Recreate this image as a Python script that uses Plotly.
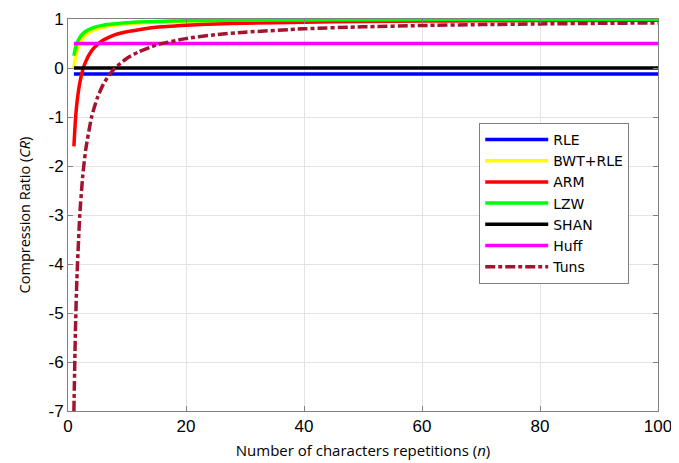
import plotly.graph_objects as go

n = [1, 1.25, 1.5, 2, 2.5, 3, 4, 5, 6, 7, 8, 10, 12, 15, 20, 25, 30, 40, 50, 60, 70, 80, 90, 100]

rle = [-0.12] * len(n)
shan = [0.0] * len(n)
huff = [0.5] * len(n)
bwt_rle = [0.0, 0.2, 0.33, 0.5, 0.6, 0.67, 0.75, 0.8, 0.83, 0.86, 0.875, 0.9, 0.92, 0.933, 0.95,
           0.96, 0.967, 0.975, 0.98, 0.983, 0.986, 0.988, 0.989, 0.99]
arm = [-1.6, -1.08, -0.73, -0.3, -0.04, 0.13, 0.35, 0.48, 0.57, 0.63, 0.68, 0.74, 0.78, 0.83, 0.87,
       0.9, 0.913, 0.935, 0.948, 0.957, 0.963, 0.968, 0.971, 0.974]
lzw = [0.25, 0.4, 0.5, 0.625, 0.7, 0.75, 0.81, 0.85, 0.875, 0.89, 0.905, 0.925, 0.94, 0.95, 0.963,
       0.97, 0.975, 0.98, 0.985, 0.988, 0.99, 0.99, 0.992, 0.993]
tuns = [-7.0, -5.4, -4.33, -3.0, -2.2, -1.67, -1.0, -0.6, -0.33, -0.14, 0.0, 0.2, 0.33, 0.47, 0.6,
        0.68, 0.73, 0.8, 0.84, 0.867, 0.886, 0.9, 0.911, 0.92]

x_ticks = [0, 20, 40, 60, 80, 100]
y_ticks = [-7, -6, -5, -4, -3, -2, -1, 0, 1]
y_tick_labels = ["-7", "-6", "-5", "-4", "-3", "-2", "-1", "0", "1"]

series = [
    ("RLE", rle, "#0000ff", "solid"),
    ("BWT+RLE", bwt_rle, "#ffff00", "solid"),
    ("ARM", arm, "#ff0000", "solid"),
    ("LZW", lzw, "#00ff00", "solid"),
    ("SHAN", shan, "#000000", "solid"),
    ("Huff", huff, "#ff00ff", "solid"),
    ("Tuns", tuns, "#a2142f", "10px,3px,4px,3px"),
]

fig = go.Figure()
for name, y, color, dash in series:
    fig.add_trace(go.Scatter(x=n, y=y, mode="lines", name=name,
                             line=dict(color=color, width=3.5, dash=dash, shape="spline", smoothing=0.6)))

axis_common = dict(showline=True, linecolor="#808080", linewidth=1, mirror="allticks",
                   ticks="inside", ticklen=5, tickcolor="#808080", automargin=False,
                   showgrid=True, gridcolor="#e3e3e3", gridwidth=1, zeroline=False,
                   tickfont=dict(family="Liberation Sans, Arial", size=17, color="#000000"))

fig.update_xaxes(range=[0, 100], tickvals=x_ticks,
                 title=dict(text="Number of characters repetitions (<i>n</i>)",
                            font=dict(family="Open Sans", size=15, color="#000000"), standoff=10),
                 **axis_common)
fig.update_yaxes(range=[-7, 1], tickvals=y_ticks, ticktext=y_tick_labels,
                 title=dict(text="Compression Ratio (<i>CR</i>)",
                            font=dict(family="Open Sans", size=14.5, color="#000000"), standoff=14),
                 **axis_common)

# the page body has an 8px default margin; compensate so the plot area lands where the reference has it
fig.update_layout(
    width=671, height=455,
    margin=dict(l=60, r=21, t=11, b=52),
    plot_bgcolor="white", paper_bgcolor="white",
    legend=dict(x=0.697, y=0.735, xanchor="left", yanchor="top",
                bordercolor="#808080", borderwidth=1, bgcolor="white",
                font=dict(family="DejaVu Sans", size=14, color="#000000"),
                itemwidth=63, tracegroupgap=0),
)

fig.write_html("out.html")
